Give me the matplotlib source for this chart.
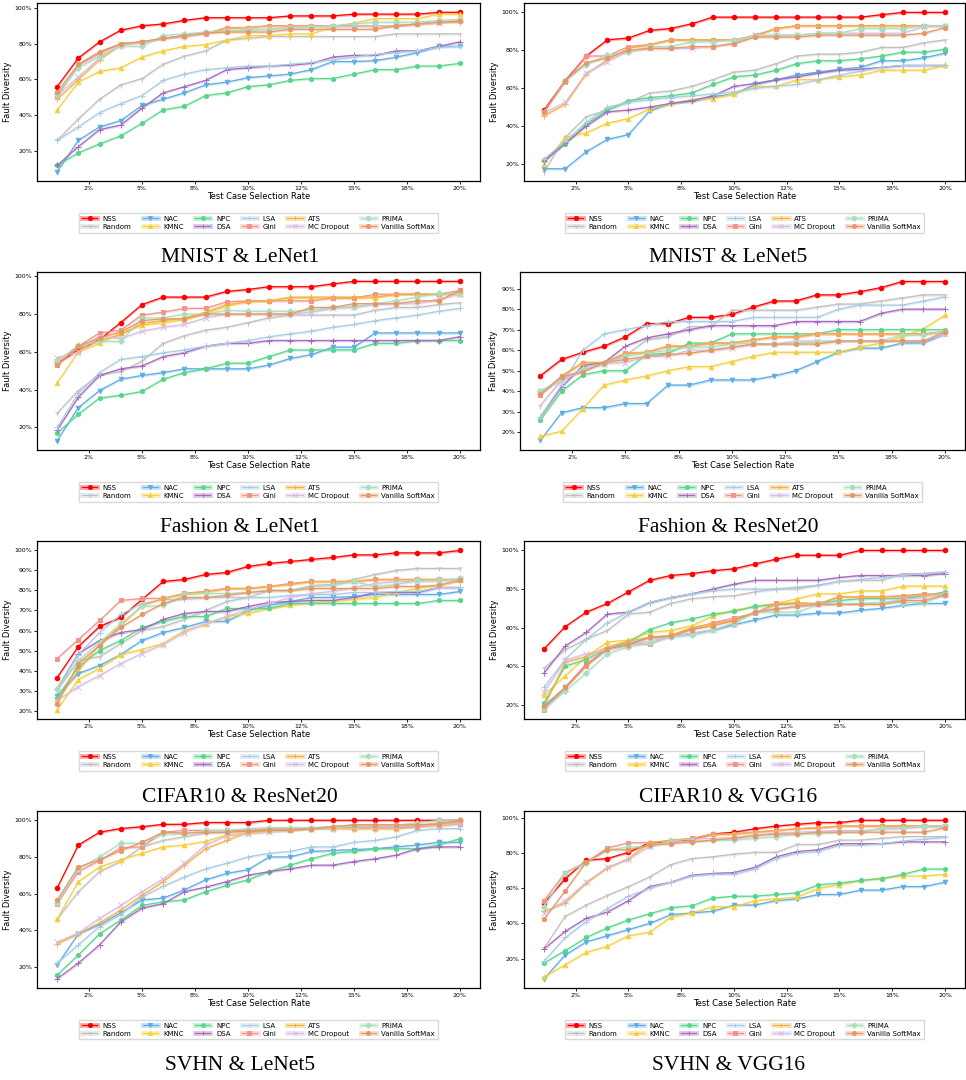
import matplotlib
matplotlib.use("Agg")
import matplotlib.pyplot as plt
from matplotlib.lines import Line2D
from matplotlib.ticker import FormatStrFormatter, MultipleLocator

rates = list(range(1, 21))
methods = ["NSS", "Random", "NAC", "KMNC", "NPC", "DSA", "LSA", "Gini",
           "ATS", "MC Dropout", "PRIMA", "Vanilla SoftMax"]

colors = {"NSS": "#ff0000", "Random": "#c0c0c0", "NAC": "#5dade2", "KMNC": "#f4d03f",
          "NPC": "#58d68d", "DSA": "#a569bd", "LSA": "#a9cce3", "Gini": "#f1948a",
          "ATS": "#f5b041", "MC Dropout": "#d7bde2", "PRIMA": "#a9dfbf",
          "Vanilla SoftMax": "#e59866"}
markers = {"NSS": "o", "Random": "1", "NAC": "v", "KMNC": "^", "NPC": "h", "DSA": "+",
           "LSA": "+", "Gini": "s", "ATS": "+", "MC Dropout": "x", "PRIMA": "D",
           "Vanilla SoftMax": "8"}

mnist_lenet1 = {
    "NSS": [56, 72, 81, 87.5, 90, 91, 93, 94.5, 94.5, 94.5, 94.5, 95.5, 95.5, 95.5, 96.5, 96.5, 96.5, 96.5, 97.5, 97.5],
    "Random": [26, 38, 49, 57, 60.5, 68.5, 73, 76, 82, 83, 84, 84, 84, 84, 84, 84, 85.5, 85.5, 85.5, 85.5],
    "NAC": [8.5, 26, 33.5, 37, 45.5, 49, 52.5, 57, 58.5, 61, 62, 63, 65.5, 70, 70, 70.5, 72.5, 75, 78.5, 78.5],
    "KMNC": [43, 58.5, 64.5, 66.5, 72.5, 76, 78.5, 79.5, 82, 84.5, 84.5, 85.5, 85.5, 89.5, 91.5, 94, 94, 94, 96.5, 96.5],
    "NPC": [12, 19, 24, 28.5, 35.5, 43, 45, 51, 52.5, 56, 57, 59.5, 60.5, 60.5, 63, 65.5, 65.5, 67.5, 67.5, 69],
    "DSA": [12, 22.5, 32, 34.5, 44, 52.5, 56, 59.5, 65.5, 66.5, 67.5, 68, 69, 72.5, 73.5, 73.5, 76, 76, 78.5, 81],
    "LSA": [26, 33.5, 41.5, 46.5, 51, 59.5, 63, 65.5, 66.5, 67.5, 67.5, 68.5, 69.5, 71, 72.5, 74, 75, 76, 78, 78.5],
    "Gini": [50.5, 68, 74.5, 80, 81, 83, 84.5, 85.5, 89, 89, 90, 90, 90, 90, 90, 90, 90, 91, 92, 93],
    "ATS": [49, 60, 71, 79.5, 81, 83, 84, 86, 88.5, 89, 90, 90, 90, 90, 90, 90, 90, 91, 92, 92],
    "MC Dropout": [51, 61.5, 72, 79.5, 80.5, 83, 84, 86, 87, 88, 88, 89, 89.5, 89.5, 90, 90, 90, 91, 91.5, 93.5],
    "PRIMA": [52, 66.5, 73, 78.5, 78.5, 84.5, 85.5, 86.5, 87, 87.5, 88, 89, 89.5, 90, 91, 92, 92, 92, 93, 93.5],
    "Vanilla SoftMax": [53, 68.5, 75.5, 80, 81, 83, 84.5, 86, 86.5, 86.5, 86.5, 88, 88, 88, 88, 88, 90, 91, 92, 92.5],
}

mnist_lenet5 = {
    "NSS": [48.5, 64, 77, 85.5, 86.5, 90.5, 91.5, 94, 97.5, 97.5, 97.5, 97.5, 97.5, 97.5, 97.5, 97.5, 98.8, 100, 100, 100],
    "Random": [16, 34, 45, 48.5, 52.5, 57.5, 58.5, 61, 64.5, 68.5, 69.5, 73, 77, 78, 78, 79, 81.5, 81.5, 84, 85.5],
    "NAC": [17.5, 17.5, 26.5, 33, 35.5, 48, 52, 53, 55.5, 57, 62, 64.5, 67, 68.5, 70, 71, 74.5, 74.5, 76, 78.5],
    "KMNC": [20, 34, 36.5, 41.5, 44, 49, 52, 54, 54.5, 57, 61, 61, 64.5, 64.5, 66, 67, 69.5, 69.5, 69.5, 72],
    "NPC": [22, 30.5, 41, 48.5, 53.5, 55, 56, 57.5, 62, 66, 67, 69.5, 73, 74.5, 74.5, 75.5, 77, 79, 79, 80.5],
    "DSA": [21.5, 31, 40, 47.5, 48.5, 50, 52, 53.5, 56, 61, 62.5, 64.5, 66, 68, 69.5, 70, 71, 72, 72, 72],
    "LSA": [22.5, 32, 42, 50, 52.5, 54, 55, 56, 57, 58, 60, 61, 62, 64.5, 67, 69, 71, 72, 72, 72],
    "Gini": [47.5, 63.5, 77, 77, 82, 83, 85.5, 85.5, 85.5, 85.5, 88, 91.5, 93, 93, 93, 93, 93, 93, 93, 93],
    "ATS": [45.5, 51.5, 67.5, 75, 81, 83, 85.5, 85.5, 85.5, 85.5, 87.5, 91.5, 93, 93, 93, 93, 93, 93, 93, 93],
    "MC Dropout": [47, 52.5, 68, 74, 79.5, 81, 81, 81, 82, 84, 88, 88, 88, 89, 89, 89, 89, 89, 92.5, 93],
    "PRIMA": [47.5, 64, 72.5, 77.5, 79, 82, 82, 84.5, 84.5, 85.5, 87.5, 88, 88, 89, 89, 91.5, 91.5, 91.5, 93, 93],
    "Vanilla SoftMax": [47.5, 64, 73.5, 76, 80, 81, 81, 82, 82, 83.5, 87, 87, 87, 88, 88, 88, 88, 88, 89, 92],
}

fashion_lenet1 = {
    "NSS": [54, 61, 66.5, 75.5, 85, 89, 89, 89, 92, 93, 94.5, 94.5, 94.5, 96, 97.3, 97.3, 97.3, 97.3, 97.3, 97.3],
    "Random": [27.5, 39.5, 48, 49.5, 55, 64.5, 68.5, 71.5, 73, 75.5, 78, 79.5, 79.5, 79.5, 79.5, 82, 83.5, 83.5, 85, 86],
    "NAC": [13, 30.5, 39.5, 45.5, 47.5, 49, 51, 51, 51, 51, 53, 56.5, 58.5, 62.5, 62.5, 70, 70, 70, 70, 70],
    "KMNC": [43.5, 60, 64.5, 70, 74, 75.5, 77, 80.5, 84, 87, 87, 88.5, 88.5, 88.5, 88.5, 88.5, 90.5, 90.5, 90.5, 90.5],
    "NPC": [17, 27, 35.5, 37, 39, 45.5, 49, 51, 54, 54, 57.5, 61, 61, 61, 61, 64.5, 64.5, 66, 66, 66],
    "DSA": [18.5, 36, 47.5, 51, 52.5, 57.5, 59.5, 63, 64.5, 64.5, 66, 66, 66, 66, 66, 66, 66, 66, 66, 68],
    "LSA": [20, 38, 49, 56, 57.5, 59.5, 61, 63, 64.5, 66, 68, 69.5, 71, 73, 74.5, 76.5, 78, 79.5, 81.5, 83],
    "Gini": [53, 63, 70, 71.5, 79.5, 81, 83, 83, 86.5, 87, 87, 87, 87, 88.5, 88.5, 90.5, 90.5, 90.5, 90.5, 92.5],
    "ATS": [56, 62, 66, 69, 75, 76.5, 78, 81, 85, 86.5, 87, 89, 89, 89, 89, 89, 90.5, 90.5, 90.5, 91],
    "MC Dropout": [56.5, 60, 68.5, 67, 71, 73, 74.5, 78, 80, 80, 80, 80, 81, 83, 83.5, 85, 85.5, 85.5, 88, 90.5],
    "PRIMA": [55, 63.5, 65.5, 65.5, 78, 78, 80, 80, 82, 81.5, 81.5, 81.5, 82, 83.5, 84, 85.5, 87, 89, 91, 91],
    "Vanilla SoftMax": [53, 63, 67.5, 70.5, 76.5, 77.5, 77.5, 80, 80, 80, 80, 80, 83.5, 83.5, 85.5, 85.5, 85.5, 87, 87, 92.5],
}

fashion_resnet20 = {
    "NSS": [47.5, 55.5, 59, 62, 66.5, 73, 73, 76, 76, 77.5, 81, 84, 84, 87, 87, 88.5, 90.5, 93.5, 93.5, 93.5],
    "Random": [33, 45.5, 50, 54, 57.5, 65, 66.5, 71.5, 71.5, 79.5, 79.5, 79.5, 79.5, 81, 82.5, 82.5, 84, 85.5, 87, 87],
    "NAC": [16, 29.5, 32, 32, 34, 34, 43, 43, 45.5, 45.5, 45.5, 47.5, 50, 54.5, 59, 61, 61, 63.5, 63.5, 68],
    "KMNC": [18, 20.5, 31.5, 43, 45.5, 47.5, 50, 52, 52, 54.5, 57, 59, 59, 59, 59, 61.5, 63.5, 66.5, 70.5, 77],
    "NPC": [26, 40, 48, 50, 50, 58, 58.5, 63.5, 63.5, 68, 68, 68, 68, 68, 70, 70, 70, 70, 70, 70],
    "DSA": [27.5, 42, 52.5, 54, 62, 66, 68, 70, 72, 72, 72, 72, 74, 74, 74, 74, 78, 80, 80, 80],
    "LSA": [27.5, 43, 60, 68, 70, 72, 74, 74, 74, 74, 76, 76, 76, 76, 80, 82, 82, 82, 84, 86],
    "Gini": [38, 47.5, 54, 54, 58.5, 59, 62, 62, 63.5, 63.5, 65, 66.5, 66.5, 68, 68, 68, 68, 68, 68, 69],
    "ATS": [39, 47, 54, 54, 58.5, 59, 62, 62, 63.5, 63.5, 65, 66.5, 66.5, 68, 68, 68, 68, 68, 68, 69],
    "MC Dropout": [40, 45, 50, 53.5, 54, 57, 57, 60, 60, 61, 63, 63, 64.5, 64.5, 64.5, 64.5, 64.5, 64.5, 64.5, 68],
    "PRIMA": [40, 46, 51, 53.5, 57, 58.5, 60, 61.5, 61.5, 63, 63.5, 63, 63.5, 64, 64.5, 64.5, 64.5, 67.5, 67.5, 69],
    "Vanilla SoftMax": [38.5, 47, 49.5, 54, 55.5, 57, 58, 58.5, 60, 61.5, 63, 63, 63, 63, 64.5, 64.5, 64.5, 64.5, 64.5, 69],
}

cifar10_resnet20 = {
    "NSS": [36.5, 52, 62, 66.5, 75.5, 84.5, 85.5, 88, 89, 92, 93.5, 94.5, 95.5, 96.5, 97.8, 97.8, 98.8, 98.8, 98.8, 100],
    "Random": [30, 45, 47, 53.5, 60, 62, 65.5, 70, 74.5, 76.5, 80, 80, 82.5, 83, 85.5, 88, 90, 91, 91, 91],
    "NAC": [27.5, 38.5, 42.5, 48, 55, 59, 61.5, 64.5, 64.5, 70, 72.5, 74.5, 76.5, 76.5, 77, 78, 78, 78, 78, 79.5],
    "KMNC": [20.5, 35.5, 41, 48, 50.5, 53.5, 60, 63, 67, 68.5, 71, 72.5, 74, 74.5, 75.5, 76.5, 79, 81, 83, 85],
    "NPC": [26.5, 42, 50, 55, 61.5, 64.5, 67, 67, 71, 71, 71, 73.5, 73.5, 73.5, 73.5, 73.5, 73.5, 73.5, 75, 75],
    "DSA": [31, 48.5, 55, 59, 60.5, 65.5, 68.5, 69.5, 69.5, 72, 74, 74.5, 75, 75, 76.5, 79, 79, 79, 81.5, 81.5],
    "LSA": [31, 48, 59, 68, 73.5, 75.5, 75.5, 76.5, 76.5, 76.5, 76.5, 77.5, 78, 78, 79, 79, 79.5, 79.5, 81.5, 81.5],
    "Gini": [46, 55.5, 65, 75, 76, 76, 78.5, 79.5, 81, 81, 82, 83.5, 84.5, 84.5, 84.5, 85.5, 85.5, 85.5, 85.5, 85.5],
    "ATS": [25, 40, 53, 62.5, 72.5, 76, 78.5, 79.5, 81, 81, 82, 83, 84.5, 84.5, 84.5, 85.5, 85.5, 85.5, 85.5, 85.5],
    "MC Dropout": [25, 32, 37.5, 43.5, 48.5, 53, 59, 63.5, 67, 70.5, 73.5, 76.5, 78.5, 79.5, 81.5, 83.5, 84.5, 84.5, 85, 85.5],
    "PRIMA": [31, 45, 54, 63.5, 72, 72.5, 78, 78.5, 78.5, 79, 80, 80, 82, 82.5, 84.5, 82, 83, 85, 85, 86],
    "Vanilla SoftMax": [23.5, 43.5, 52.5, 61.5, 68, 73.5, 76.5, 76.5, 77.5, 79, 80, 80, 81, 81, 81, 81, 82, 82, 82.5, 85],
}

cifar10_vgg16 = {
    "NSS": [49, 60.5, 68, 72.5, 78.5, 84.5, 87, 88, 89.5, 90.5, 93, 95.5, 97.5, 97.5, 97.5, 100, 100, 100, 100, 100],
    "Random": [39, 48.5, 54, 58.5, 67, 68, 72.5, 75, 76, 76.5, 78.5, 80, 80, 82, 84, 84.5, 84.5, 88, 88, 88.5],
    "NAC": [18.5, 29, 41, 49, 51.5, 55, 55.5, 57, 58.5, 61.5, 64, 66.5, 66.5, 67.5, 67.5, 69, 70, 71.5, 72.5, 72.5],
    "KMNC": [25, 35, 45, 52.5, 53.5, 57.5, 58.5, 61, 66, 69, 71, 72.5, 75, 77.5, 77.5, 79, 79, 81.5, 81.5, 81.5],
    "NPC": [21, 40, 43.5, 49, 52.5, 59, 62.5, 64.5, 67, 68.5, 71, 72, 72.5, 72.5, 74, 75, 75, 75, 76.5, 78.5],
    "DSA": [36.5, 50.5, 57.5, 67, 68, 73, 75.5, 77.5, 80, 82.5, 84.5, 84.5, 84.5, 84.5, 86, 87, 87, 87, 87, 88],
    "LSA": [29, 43.5, 54, 62.5, 68, 73, 75.5, 77.5, 79, 80, 80, 80, 81, 82, 84, 85, 86, 87, 88, 89],
    "Gini": [17.5, 28.5, 40, 49, 51.5, 51.5, 56, 59.5, 62.5, 65, 67.5, 72.5, 72.5, 72.5, 76, 76, 76, 76.5, 77.5, 77],
    "ATS": [19, 42, 45, 50, 53, 55, 56, 60, 62, 64, 68, 72, 73, 72, 76, 76, 76, 76, 77, 77.5],
    "MC Dropout": [26.5, 43, 46.5, 48.5, 51, 53, 55.5, 57, 59, 62, 68.5, 70, 71, 72, 72, 72.5, 73, 74.5, 75.5, 77.5],
    "PRIMA": [18, 27, 36.5, 46.5, 50, 52, 55, 56, 58.5, 62.5, 68, 68, 68, 72, 72.5, 72.5, 73, 73, 73, 77],
    "Vanilla SoftMax": [19.5, 29, 41, 49, 51, 55, 55.5, 59, 61, 63.5, 68, 69.5, 71, 72, 72, 72, 72, 74, 74, 77],
}

svhn_lenet5 = {
    "NSS": [63, 86.5, 93.5, 95.5, 96.5, 97.8, 97.8, 98.8, 98.8, 98.8, 100, 100, 100, 100, 100, 100, 100, 100, 100, 100],
    "Random": [46, 61, 72, 77.5, 85.5, 89, 91, 93, 93.5, 94.5, 95.5, 95.5, 95.5, 95.5, 95.5, 95.5, 95.5, 97, 98.5, 99],
    "NAC": [21, 38, 43, 49.5, 56.5, 57.5, 62, 67.5, 71, 73, 80, 80, 83, 83.5, 84, 84.5, 85.5, 86.5, 88, 88],
    "KMNC": [46, 66.5, 74.5, 78.5, 82, 85.5, 86.5, 88.5, 92, 93, 94, 94.5, 95.5, 95.5, 95.5, 95.5, 95.5, 96.5, 97, 98],
    "NPC": [15.5, 26.5, 38, 45.5, 53.5, 55.5, 56.5, 61, 64.5, 67.5, 72, 75.5, 79, 82, 83, 84.5, 84.5, 84.5, 86.5, 90],
    "DSA": [13.5, 22, 32, 44.5, 52, 54.5, 61, 63.5, 66.5, 70, 72, 73.5, 75.5, 75.5, 77.5, 79, 81, 84.5, 85.5, 85.5],
    "LSA": [22, 32, 42, 48.5, 58, 64, 69, 73.5, 76.5, 80, 82, 83, 85.5, 85.5, 88, 89, 91, 94.5, 95.5, 95.5],
    "Gini": [54.5, 72, 78, 85, 85.5, 93.5, 94.5, 94.5, 94.5, 94.5, 95, 95, 95.5, 96, 96, 96, 96, 96.5, 97.5, 98],
    "ATS": [32.5, 38, 44, 51, 59, 66.5, 75.5, 84.5, 89, 93.5, 94.5, 95, 95.5, 96.5, 97.5, 97.5, 97.5, 97.5, 98, 99.5],
    "MC Dropout": [33.5, 38.5, 46.5, 53.5, 61, 68, 76.5, 86.5, 91.5, 92.5, 93.5, 94.5, 95.5, 96, 96.5, 96.5, 96.5, 97, 97.5, 98],
    "PRIMA": [55, 73.5, 80, 87.5, 87.5, 92.5, 92.5, 94.5, 94.5, 95.5, 96, 96, 96, 96.5, 97, 97.5, 97.5, 98.5, 100, 100],
    "Vanilla SoftMax": [56.5, 74.5, 78.5, 83.5, 88, 93.5, 93, 93.5, 93.5, 94, 94.5, 94.5, 95.5, 96.5, 97.5, 97.5, 97.5, 97.5, 98, 100],
}

svhn_vgg16 = {
    "NSS": [51.5, 65.5, 76, 77, 80.5, 86, 86.5, 88, 91, 92, 94, 95.5, 96.5, 97.5, 97.5, 98.8, 98.8, 98.8, 98.8, 98.8],
    "Random": [26, 44, 50.5, 56, 61, 66.5, 73.5, 77, 78, 79.5, 80.5, 80.5, 85, 85, 87.5, 87.5, 88.5, 89.5, 89.5, 89.5],
    "NAC": [8.5, 22, 29.5, 33, 36.5, 40, 45, 46, 47, 50.5, 50.5, 53, 54, 56.5, 56.5, 59, 59, 61, 61, 63.5],
    "KMNC": [9.5, 16.5, 23.5, 27, 33, 35, 43.5, 46, 49.5, 49.5, 53, 54, 55, 60, 62, 64.5, 66, 67, 67, 68],
    "NPC": [17.5, 24.5, 32, 37.5, 42, 45.5, 49, 50, 54.5, 55.5, 55.5, 56.5, 57.5, 62, 63, 64.5, 65.5, 68, 71, 71],
    "DSA": [25.5, 35.5, 43, 46.5, 53, 61, 63.5, 67.5, 68.5, 69, 72, 78, 81, 82, 85.5, 85.5, 85.5, 86.5, 86.5, 86.5],
    "LSA": [18.5, 32, 41, 48.5, 55.5, 60, 63.5, 67, 68, 68, 71, 77, 80, 81, 84.5, 84.5, 85.5, 87, 88, 89],
    "Gini": [53, 69, 75, 83, 86, 86, 87, 88.5, 91, 91, 92, 93, 94, 94.5, 95.5, 95.5, 95.5, 95.5, 95.5, 95.5],
    "ATS": [47, 51.5, 63, 71.5, 77, 86, 87.5, 88.5, 90.5, 91, 92, 93, 94, 94.5, 95.5, 95.5, 95.5, 95.5, 95.5, 95.5],
    "MC Dropout": [46, 53, 63.5, 72, 76.5, 84, 87, 88, 88.5, 89, 90.5, 91.5, 92, 92.5, 93, 93, 93.5, 94, 95, 95],
    "PRIMA": [49.5, 68.5, 74.5, 82, 83.5, 84, 86.5, 86.5, 87.5, 87.5, 88.5, 89.5, 91, 91, 92, 92, 94.5, 94.5, 95.5, 95.5],
    "Vanilla SoftMax": [42.5, 58.5, 75, 82, 82, 84.5, 85.5, 86.5, 87.5, 88.5, 90, 91, 91, 92, 92, 92, 92, 92, 92, 94.5],
}

panels = [
    ("MNIST & LeNet1", mnist_lenet1, 20),
    ("MNIST & LeNet5", mnist_lenet5, 20),
    ("Fashion & LeNet1", fashion_lenet1, 20),
    ("Fashion & ResNet20", fashion_resnet20, 10),
    ("CIFAR10 & ResNet20", cifar10_resnet20, 10),
    ("CIFAR10 & VGG16", cifar10_vgg16, 20),
    ("SVHN & LeNet5", svhn_lenet5, 20),
    ("SVHN & VGG16", svhn_vgg16, 20),
]

W, H = 966, 1080
# axes boxes in pixels: left, top, right, bottom
boxes = [
    (37, 3, 480, 181), (524, 3, 965, 181),
    (37, 272, 480, 450), (520, 272, 965, 450),
    (37, 541, 480, 719), (524, 541, 965, 719),
    (37, 811, 480, 988), (524, 811, 965, 988),
]
caption_y = [258, 258, 528, 528, 797, 797, 1065, 1065]
caption_x = [240, 728]

fig = plt.figure(figsize=(W / 100, H / 100), dpi=100)

for i, (title, data, step) in enumerate(panels):
    l, t, r, b = boxes[i]
    ax = fig.add_axes([l / W, 1 - b / H, (r - l) / W, (b - t) / H])
    handles = []
    for m in methods:
        y = data[m]
        c = colors[m]
        ax.fill_between(rates, [v - 0.7 for v in y], [v + 0.7 for v in y],
                        color=c, alpha=0.3, lw=0)
        ms = 3.3 if markers[m] in ("o", "v", "^", "s", "h", "8") else 3.8
        if markers[m] == "D":
            ms = 3
        line, = ax.plot(rates, y, color=c, marker=markers[m], markersize=ms,
                        lw=0.85, markeredgewidth=0.7)
        band = Line2D([], [], color=c, lw=3.5, alpha=0.35)
        handles.append((band, line))
    ax.set_xticks([2.5, 5, 7.5, 10, 12.5, 15, 17.5, 20])
    ax.xaxis.set_major_formatter(FormatStrFormatter("%.0f%%"))
    ax.yaxis.set_major_locator(MultipleLocator(step))
    ax.yaxis.set_major_formatter(FormatStrFormatter("%.0f%%"))
    ax.tick_params(labelsize=4.5, length=2, width=0.6, pad=1.5)
    ax.set_xlabel("Test Case Selection Rate", fontsize=6, labelpad=1)
    ax.set_ylabel("Fault Diversity", fontsize=6, labelpad=2)
    for s in ax.spines.values():
        s.set_linewidth(0.9)
    ax.legend(handles, methods, loc="upper center", bbox_to_anchor=(0.5, -0.16),
              ncol=6, fontsize=5, frameon=True, handlelength=2.2,
              columnspacing=1.6, borderpad=0.4, labelspacing=0.3,
              edgecolor="#d0d0d0", fancybox=False, markerscale=0.9)
    fig.text(caption_x[i % 2] / W, 1 - caption_y[i] / H, title, ha="center",
             va="center", fontsize=15.5, family="Liberation Serif")

fig.savefig("out.png", dpi=100)
